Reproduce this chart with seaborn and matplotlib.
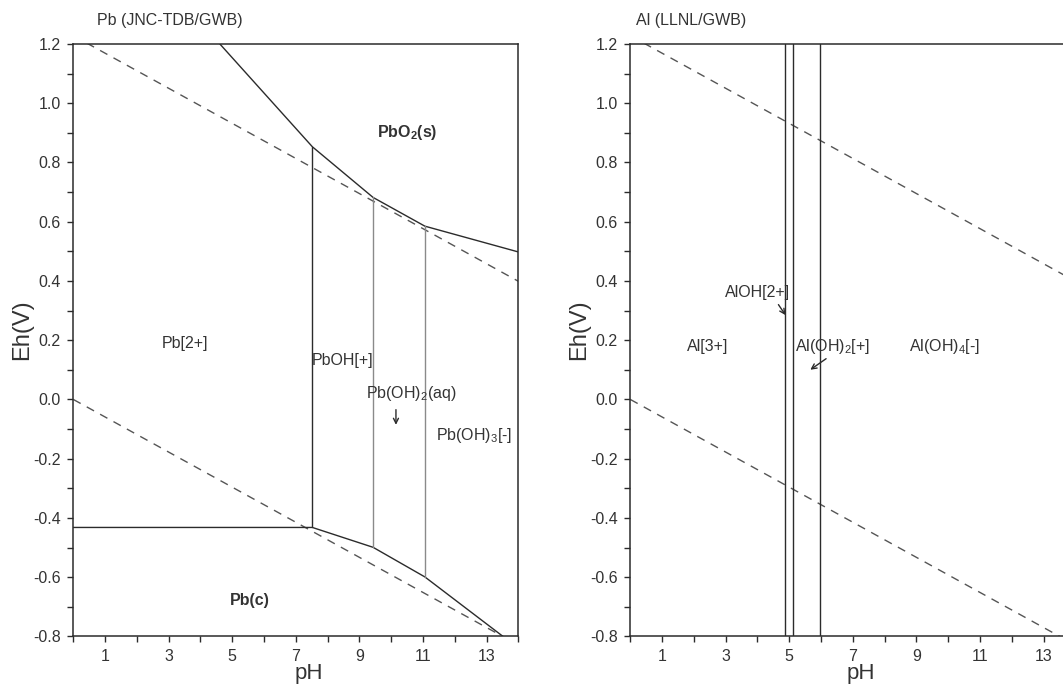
import matplotlib
matplotlib.use("Agg")
import matplotlib.pyplot as plt
from matplotlib.ticker import FixedLocator, FormatStrFormatter
import seaborn as sns
import pandas as pd

# --- Pb system (JNC-TDB/GWB) -------------------------------------------
pb_upper_ph = [4.61, 7.52, 9.43, 11.06, 14.0]      # PbO2(s) / aqueous boundary
pb_upper_eh = [1.20, 0.853, 0.682, 0.585, 0.498]
pb_lower_ph = [0.0, 7.52, 9.43, 11.06, 13.52]      # Pb(c) / aqueous boundary
pb_lower_eh = [-0.432, -0.432, -0.499, -0.599, -0.80]
pb_split_ph = [7.52, 9.43, 11.06]                  # aqueous species boundaries
pb_split_top = [0.853, 0.682, 0.585]
pb_split_bottom = [-0.432, -0.499, -0.599]

# --- Al system (LLNL/GWB) -----------------------------------------------
al_split_ph = [4.87, 5.11, 5.98]

# --- water stability limits (O2/H2O and H2O/H2) ---------------------------
water_ph = [0.0, 14.0]
o2_eh = [1.228, 0.399]
h2_eh = [0.0, -0.829]

x_ticks = [1, 3, 5, 7, 9, 11, 13]
y_ticks = [-0.8, -0.6, -0.4, -0.2, 0.0, 0.2, 0.4, 0.6, 0.8, 1.0, 1.2]

sns.set_theme(style="ticks")
plt.rcParams["font.family"] = ["Liberation Sans", "DejaVu Sans"]
plt.rcParams["mathtext.default"] = "regular"
plt.rcParams["axes.unicode_minus"] = False

INK = "#2b2b2b"
GREY = "#8a8a8a"
DASH = "#555555"
FS = 11.5

fig = plt.figure(figsize=(10.63, 6.86), dpi=100)
ax_pb = fig.add_axes([0.0690, 0.0722, 0.4186, 0.8637])
ax_al = fig.add_axes([0.5930, 0.0722, 0.4186, 0.8637])


def seg(ax, xs, ys, color=INK, lw=1.0, dashes=None):
    df = pd.DataFrame({"pH": xs, "Eh": ys})
    line = sns.lineplot(data=df, x="pH", y="Eh", ax=ax, color=color, lw=lw,
                        sort=False, estimator=None, legend=False)
    if dashes is not None:
        line.lines[-1].set_dashes(dashes)


def style_axes(ax, title, title_x, xlabel_x):
    ax.set_xlim(0, 14)
    ax.set_ylim(-0.8, 1.2)
    ax.xaxis.set_major_locator(FixedLocator(x_ticks))
    ax.xaxis.set_minor_locator(FixedLocator(list(range(0, 15, 2))))
    ax.yaxis.set_major_locator(FixedLocator(y_ticks))
    ax.yaxis.set_minor_locator(FixedLocator([-0.7, -0.5, -0.3, -0.1, 0.1, 0.3, 0.5, 0.7, 0.9, 1.1]))
    ax.yaxis.set_major_formatter(FormatStrFormatter("%.1f"))
    ax.tick_params(which="both", direction="out", length=4.5, width=1.0,
                   color=INK, labelsize=FS, labelcolor="#333333", pad=4.5)
    for sp in ax.spines.values():
        sp.set_color(INK)
        sp.set_linewidth(1.1)
    ax.set_xlabel("pH", fontsize=16, color="#333333", labelpad=0)
    ax.set_ylabel("Eh(V)", fontsize=17, color="#333333")
    ax.xaxis.set_label_coords(xlabel_x, -0.044)
    ax.yaxis.set_label_coords(-0.09, 0.517)
    ax.text(title_x, 1.04, title, transform=ax.transAxes, ha="left", va="center",
            fontsize=FS, color="#333333")


# Pb panel
seg(ax_pb, water_ph, o2_eh, color=DASH, dashes=(6, 5))
seg(ax_pb, water_ph, h2_eh, color=DASH, dashes=(6, 5))
seg(ax_pb, pb_upper_ph, pb_upper_eh)
seg(ax_pb, pb_lower_ph, pb_lower_eh)
for i, (p, t, b) in enumerate(zip(pb_split_ph, pb_split_top, pb_split_bottom)):
    seg(ax_pb, [p, p], [t, b], color=INK if i == 0 else GREY)

txt = dict(ha="left", va="center", fontsize=FS, color="#333333")
ax_pb.text(9.54, 0.90, "PbO$_2$(s)", fontweight="bold", **txt)
ax_pb.text(2.78, 0.19, "Pb[2+]", **txt)
ax_pb.text(7.50, 0.13, "PbOH[+]", **txt)
ax_pb.text(9.20, 0.02, "Pb(OH)$_2$(aq)", **txt)
ax_pb.text(11.40, -0.12, "Pb(OH)$_3$[-]", **txt)
ax_pb.text(4.93, -0.68, "Pb(c)", fontweight="bold", **txt)
ax_pb.annotate("", xy=(10.15, -0.095), xytext=(10.15, -0.025),
               arrowprops=dict(arrowstyle="->", color=INK, lw=1.0, mutation_scale=9))
style_axes(ax_pb, "Pb (JNC-TDB/GWB)", 0.053, 0.53)

# Al panel
seg(ax_al, water_ph, o2_eh, color=DASH, dashes=(6, 5))
seg(ax_al, water_ph, h2_eh, color=DASH, dashes=(6, 5))
for p in al_split_ph:
    seg(ax_al, [p, p], [1.2, -0.8])

ax_al.text(2.98, 0.36, "AlOH[2+]", **txt)
ax_al.text(1.79, 0.18, "Al[3+]", **txt)
ax_al.text(5.19, 0.18, "Al(OH)$_2$[+]", **txt)
ax_al.text(8.78, 0.18, "Al(OH)$_4$[-]", **txt)
ax_al.annotate("", xy=(4.93, 0.277), xytext=(4.61, 0.328),
               arrowprops=dict(arrowstyle="->", color=INK, lw=1.0, mutation_scale=9))
ax_al.annotate("", xy=(5.59, 0.095), xytext=(6.23, 0.143),
               arrowprops=dict(arrowstyle="->", color=INK, lw=1.0, mutation_scale=9))
style_axes(ax_al, "Al (LLNL/GWB)", 0.013, 0.517)

fig.savefig("out.png", dpi=100)
